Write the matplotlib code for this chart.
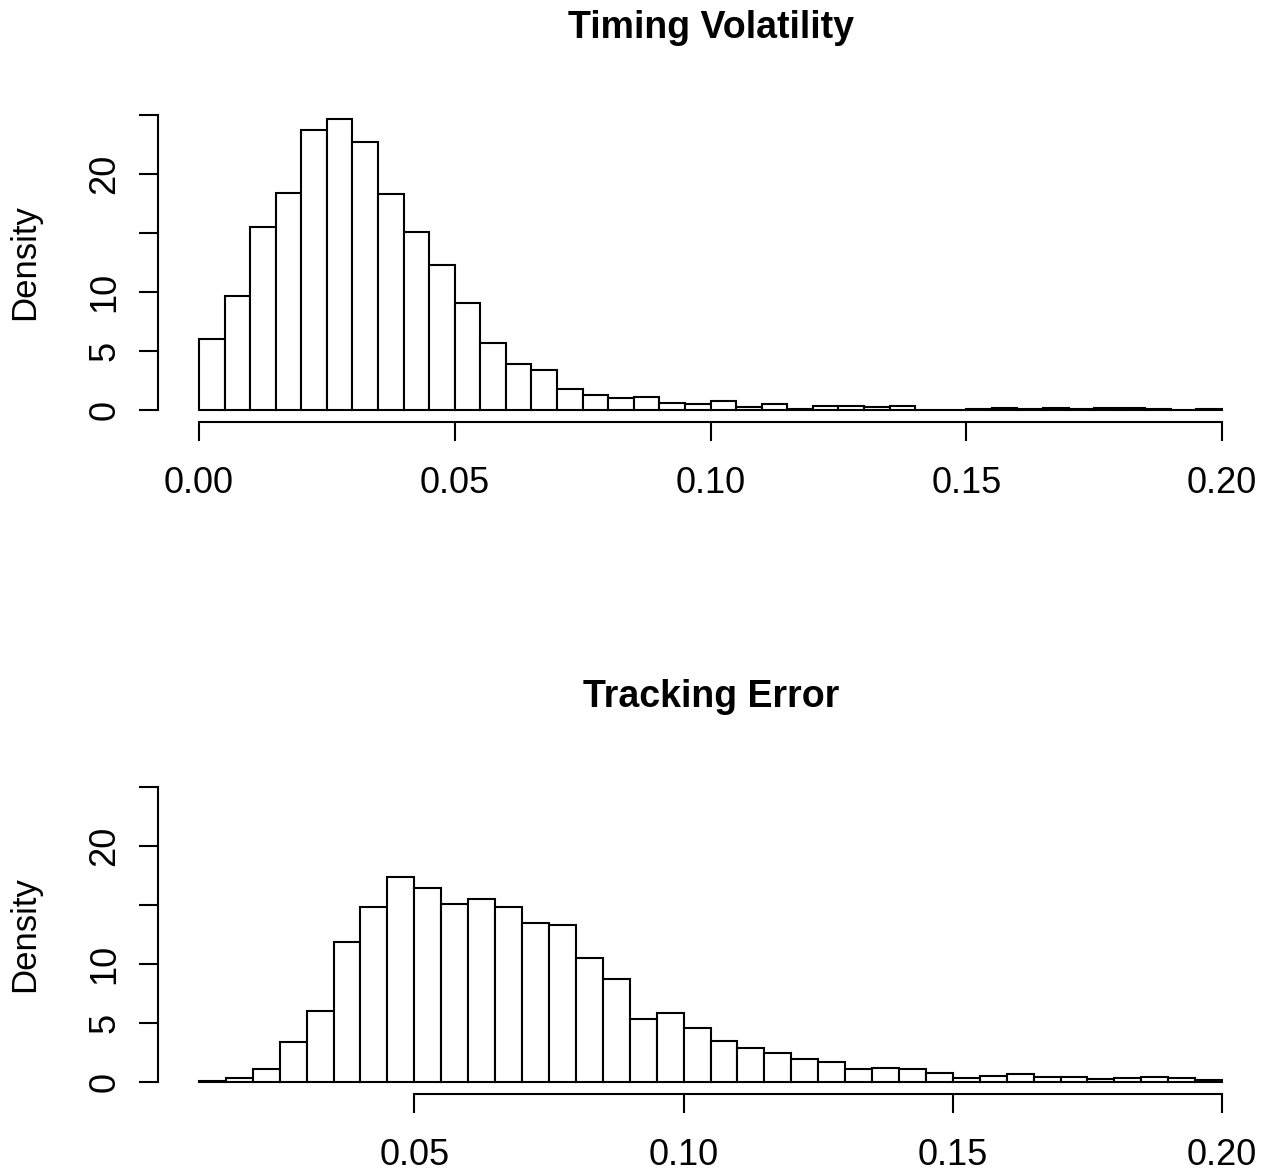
import numpy as np
import matplotlib
matplotlib.use("Agg")
import matplotlib.pyplot as plt

# ..data (density per bin of width 0.005)..
timing_edges_start = 0.0
timing_density = [6.0, 9.7, 15.5, 18.4, 23.7, 24.7, 22.7, 18.3, 15.1, 12.3,
                  9.1, 5.7, 3.9, 3.4, 1.75, 1.3, 1.0, 1.08, 0.58, 0.52,
                  0.8, 0.24, 0.49, 0.07, 0.38, 0.32, 0.24, 0.34, 0.02, 0.03,
                  0.12, 0.2, 0.1, 0.15, 0.05, 0.15, 0.2, 0.1, 0.03, 0.1]

tracking_edges_start = 0.01
tracking_density = [0.1, 0.37, 1.1, 3.4, 6.05, 11.9, 14.8, 17.35, 16.4, 15.05,
                    15.5, 14.8, 13.5, 13.3, 10.5, 8.75, 5.3, 5.85, 4.6, 3.45,
                    2.9, 2.48, 1.95, 1.67, 1.1, 1.2, 1.07, 0.73, 0.36, 0.48,
                    0.65, 0.4, 0.4, 0.22, 0.3, 0.43, 0.3, 0.2]

bin_width = 0.005
y_ticks = [0, 5, 10, 15, 20, 25]
y_tick_labels = ["0", "5", "10", "", "20", ""]

plt.rcParams['font.family'] = ['Liberation Sans', 'DejaVu Sans']

W, H = 1266, 1171
fig = plt.figure(figsize=(W / 100, H / 100), dpi=100)


def px_axes(left, right, top, bottom):
    return fig.add_axes([left / W, 1 - bottom / H, (right - left) / W, (bottom - top) / H])


def draw_hist(ax, start, dens, xticks, xlabels, xbounds, xlim, title, title_y):
    edges = start + bin_width * np.arange(len(dens))
    ax.bar(edges, dens, width=bin_width, align='edge', facecolor='white',
           edgecolor='black', linewidth=1.5)
    ax.set_xlim(*xlim)
    ax.set_ylim(-1, 26)
    for s in ['top', 'right']:
        ax.spines[s].set_visible(False)
    ax.spines['left'].set_bounds(0, 25)
    ax.spines['bottom'].set_bounds(*xbounds)
    for s in ['left', 'bottom']:
        ax.spines[s].set_linewidth(1.5)
    ax.set_xticks(xticks)
    ax.set_xticklabels(xlabels)
    ax.set_yticks(y_ticks)
    ax.set_yticklabels(y_tick_labels, rotation=90, va='center')
    ax.tick_params(length=14, width=1.5, labelsize=26)
    ax.tick_params(axis='x', pad=17.5)
    ax.tick_params(axis='y', pad=11.5)
    ax.patch.set_visible(False)
    fig.text(711 / W, 1 - title_y / H, title, ha='center', va='center',
             fontsize=27, fontweight='bold')


ax1 = px_axes(158, 1263, 103.2, 421.8)
draw_hist(ax1, timing_edges_start, timing_density,
          [0.0, 0.05, 0.10, 0.15, 0.20], ["0.00", "0.05", "0.10", "0.15", "0.20"],
          (0.0, 0.2), (-0.008, 0.208), "Timing Volatility", 28)
fig.text(25 / W, 1 - 262 / H, "Density", rotation=90, ha='center', va='center', fontsize=25)

ax2 = px_axes(158, 1263, 775.2, 1093.8)
draw_hist(ax2, tracking_edges_start, tracking_density,
          [0.05, 0.10, 0.15, 0.20], ["0.05", "0.10", "0.15", "0.20"],
          (0.05, 0.2), (0.0024, 0.2076), "Tracking Error", 697)
fig.text(25 / W, 1 - 934 / H, "Density", rotation=90, ha='center', va='center', fontsize=25)

fig.savefig("out.png", dpi=100)
